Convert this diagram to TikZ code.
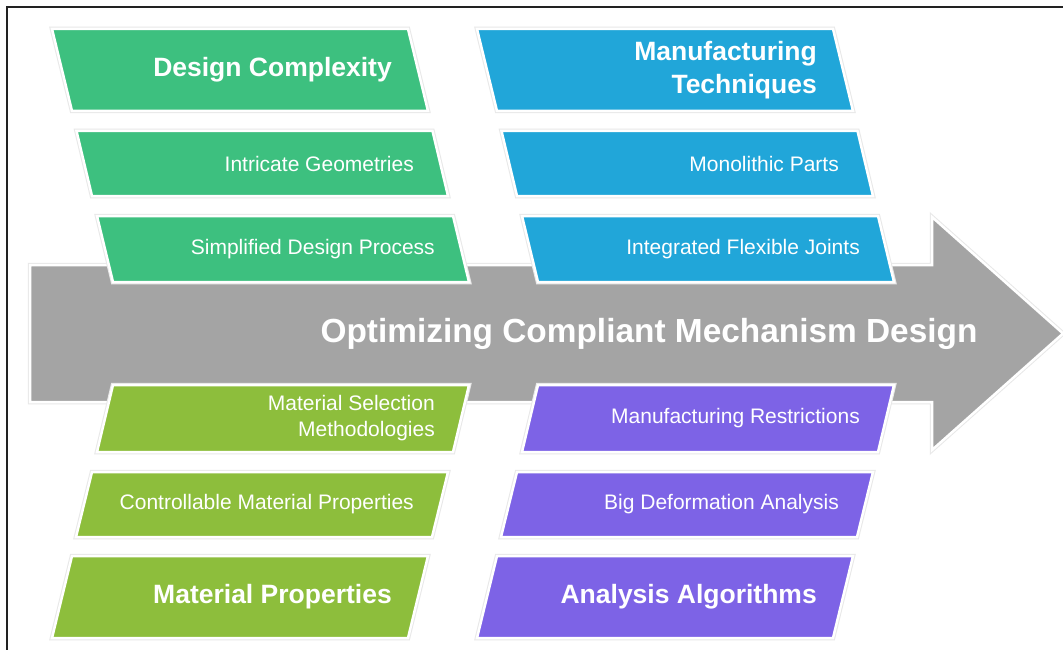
\documentclass[tikz,border=0pt]{standalone}
\usepackage{fontspec}
\setmainfont{Liberation Sans}
\definecolor{cgreen}{HTML}{3DC07F}
\definecolor{cblue}{HTML}{21A6D9}
\definecolor{clime}{HTML}{8DBE3C}
\definecolor{cpurple}{HTML}{7D63E6}
\definecolor{carrow}{HTML}{A4A4A4}
\definecolor{cframe}{HTML}{222222}
\begin{document}
\begin{tikzpicture}[x=1pt,y=-1pt,
  shp/.style={fill=#1, draw=white, line width=2.5pt, line join=miter,
    preaction={draw=black!9, line width=4.5pt}},
  head/.style={text=white, font=\fontsize{26.5}{33}\selectfont\bfseries,
    align=right, anchor=east, inner sep=0pt},
  item/.style={text=white, font=\fontsize{21}{26}\selectfont,
    align=right, anchor=east, inner sep=0pt},
  titletext/.style={text=white, font=\fontsize{33.4}{40}\selectfont\bfseries,
    inner sep=0pt}]
\useasboundingbox (0,0) rectangle (1063,650);
\fill[white] (0,0) rectangle (1063,650);
% frame
\draw[cframe, line width=2pt] (7,650) -- (7,7) -- (1063,7);
% main arrow
\path[shp=carrow] (30,265) -- (932,265) -- (932,217) -- (1063,333.5)
  -- (932,450) -- (932,402) -- (30,402) -- cycle;
\node[titletext] (title) at (649,333.5) {Optimizing Compliant Mechanism Design};
% left top
\path[shp=cgreen] (52,29) -- (408,29) -- (428,111) -- (72,111) -- cycle;
\node[head] (dc) at (392,70) {Design Complexity};
\path[shp=cgreen] (76.5,131) -- (432.5,131) -- (448,196) -- (92,196) -- cycle;
\node[item] (ig) at (414,163.5) {Intricate Geometries};
\path[shp=cgreen] (97,216) -- (453,216) -- (469,282) -- (113,282) -- cycle;
\node[item] (sdp) at (435,249) {Simplified Design Process};
% right top
\path[shp=cblue] (477,29) -- (833,29) -- (853,111) -- (497,111) -- cycle;
\node[head] (mt) at (817,70) {Manufacturing\\Techniques};
\path[shp=cblue] (501.5,131) -- (857.5,131) -- (873,196) -- (517,196) -- cycle;
\node[item] (mp1) at (839,163.5) {Monolithic Parts};
\path[shp=cblue] (522,216) -- (878,216) -- (894,282) -- (538,282) -- cycle;
\node[item] (ifj) at (860,249) {Integrated Flexible Joints};
% left bottom
\path[shp=clime] (113,385) -- (469,385) -- (453,452) -- (97,452) -- cycle;
\node[item] (msm) at (435,418.5) {Material Selection\\Methodologies};
\path[shp=clime] (92,472) -- (448,472) -- (432,537) -- (76,537) -- cycle;
\node[item] (cmp) at (414,504.5) {Controllable Material Properties};
\path[shp=clime] (72,556) -- (428,556) -- (408,638) -- (52,638) -- cycle;
\node[head] (matp) at (392,597) {Material Properties};
% right bottom
\path[shp=cpurple] (538,385) -- (894,385) -- (878,452) -- (522,452) -- cycle;
\node[item] (mr) at (860,418.5) {Manufacturing Restrictions};
\path[shp=cpurple] (517,472) -- (873,472) -- (857,537) -- (501,537) -- cycle;
\node[item] (bda) at (839,504.5) {Big Deformation Analysis};
\path[shp=cpurple] (497,556) -- (853,556) -- (833,638) -- (477,638) -- cycle;
\node[head] (aa) at (817,597) {Analysis Algorithms};
\end{tikzpicture}
\end{document}
